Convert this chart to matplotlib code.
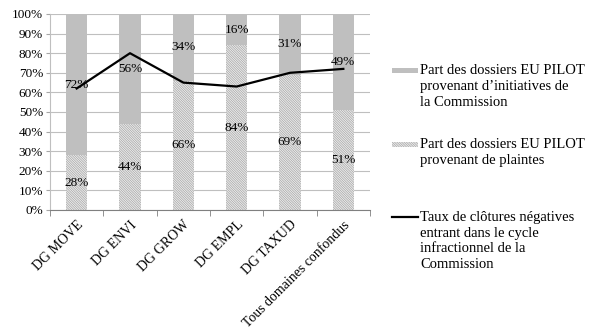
import matplotlib.pyplot as plt
from matplotlib.patches import Rectangle
from matplotlib.lines import Line2D
import numpy as np

plt.rcParams['font.family'] = ['Liberation Serif', 'DejaVu Serif']
plt.rcParams['hatch.color'] = '#999999'
plt.rcParams['hatch.linewidth'] = 0.5

categories = ['DG MOVE', 'DG ENVI', 'DG GROW', 'DG EMPL', 'DG TAXUD', 'Tous domaines confondus']
plaintes = [28, 44, 66, 84, 69, 51]
initiatives = [72, 56, 34, 16, 31, 49]
clotures = [62, 80, 65, 63, 70, 72]

lab_init = ["Part des dossiers EU PILOT", "provenant d\u2019initiatives de", "la Commission"]
lab_plt = ["Part des dossiers EU PILOT", "provenant de plaintes"]
lab_clo = ["Taux de cl\u00f4tures n\u00e9gatives", "entrant dans le cycle", "infractionnel de la", "Commission"]

HATCH = '\\' * 14

W, H = 597, 336
fig = plt.figure(figsize=(W / 100, H / 100), dpi=100)
ax = fig.add_axes([50 / W, 1 - 210 / H, 320 / W, 196 / H])

x = np.arange(len(categories))
ax.bar(x, plaintes, width=0.4, color='#ececec', hatch=HATCH, edgecolor='#a6a6a6',
       linewidth=0, zorder=2)
ax.bar(x, initiatives, width=0.4, bottom=plaintes, color='#bfbfbf', linewidth=0, zorder=2)
ax.plot(x, clotures, color='black', lw=1.6, zorder=3)

for i in range(len(x)):
    ax.text(x[i], plaintes[i] / 2, f'{plaintes[i]}%', ha='center', va='center', fontsize=9.5, zorder=4)
    ax.text(x[i], plaintes[i] + initiatives[i] / 2, f'{initiatives[i]}%', ha='center', va='center',
            fontsize=9.5, zorder=4)

ax.set_xlim(-0.5, 5.5)
ax.set_ylim(0, 100)
ax.set_yticks(np.arange(0, 101, 10))
ax.set_yticklabels([f'{v}%' for v in range(0, 101, 10)], fontsize=9.5)
ax.yaxis.grid(True, color='#bfbfbf', lw=0.8, zorder=0)
ax.tick_params(axis='y', length=3, color='#a6a6a6', pad=2)

ax.set_xticks(x)
ax.set_xticklabels(categories, rotation=45, ha='right', rotation_mode='anchor', fontsize=10)
ax.tick_params(axis='x', length=0, pad=6)
ax.set_xticks(np.arange(-0.5, 6, 1), minor=True)
ax.tick_params(axis='x', which='minor', length=4, color='#808080', direction='out')

for s in ['top', 'right']:
    ax.spines[s].set_visible(False)
ax.spines['bottom'].set_color('#808080')
ax.spines['left'].set_color('#bfbfbf')

# legend, drawn by hand so the handles sit on the first line of each label
leg_x0, leg_x1, txt_x = 392, 418, 420
entries = [(lab_init, 70, 'patch'), (lab_plt, 144, 'hatch'), (lab_clo, 217, 'line')]
for lines, hy, kind in entries:
    if kind == 'line':
        fig.add_artist(Line2D([leg_x0 / W, leg_x1 / W], [1 - hy / H, 1 - hy / H], color='black', lw=1.6))
    elif kind == 'patch':
        fig.add_artist(Rectangle((leg_x0 / W, 1 - (hy + 2.5) / H), (leg_x1 - leg_x0) / W, 5 / H,
                                 facecolor='#bfbfbf', linewidth=0))
    else:
        fig.add_artist(Rectangle((leg_x0 / W, 1 - (hy + 2.5) / H), (leg_x1 - leg_x0) / W, 5 / H,
                                 facecolor='#ececec', hatch=HATCH, edgecolor='#a6a6a6', linewidth=0))
    for k, line in enumerate(lines):
        base = hy + 4.5 + 15.5 * k
        fig.text(txt_x / W, 1 - base / H, line, ha='left', va='baseline', fontsize=10.5)

fig.savefig('out.png', dpi=100)
